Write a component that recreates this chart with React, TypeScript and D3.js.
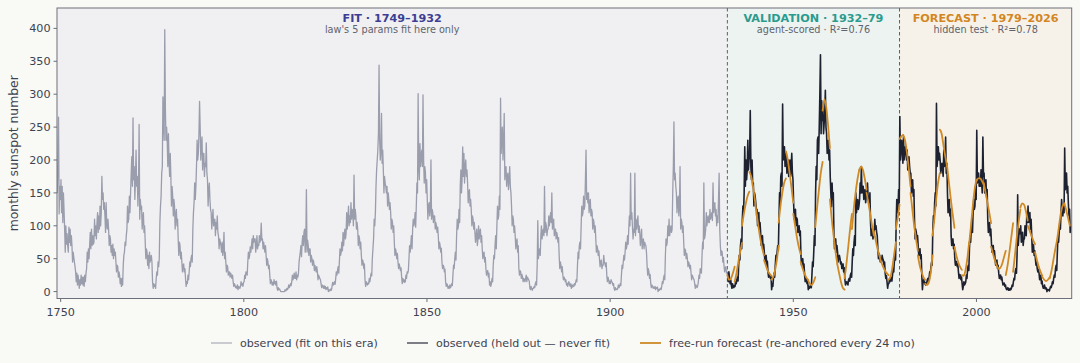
import React from "react";
import * as d3 from "d3";

// Monthly sunspot number, sampled six times a year (every other month)
const SAMPLES_PER_YEAR = 6;
const FIT_FIRST_YEAR = 1749;
const HELD_FIRST_YEAR = 1932;

// 1749–1931: the era the law's parameters were fit on (one row per year)
const fitEra = [
  150, 205, 265, 118, 160, 140, 170, 120, 160, 105, 150, 125, 95, 60, 100, 72, 88, 70,
  60, 98, 75, 95, 70, 85, 70, 45, 60, 52, 45, 38, 30, 15, 28, 10, 25, 15,
  5, 18, 10, 25, 12, 22, 10, 22, 8, 25, 15, 28, 35, 60, 45, 65, 50, 72,
  90, 65, 95, 70, 85, 72, 75, 110, 85, 100, 80, 105, 120, 90, 115, 95, 130, 100,
  120, 175, 140, 150, 125, 135, 115, 90, 135, 100, 95, 110, 95, 70, 85, 80, 60, 70,
  55, 72, 50, 65, 55, 60, 45, 30, 40, 38, 22, 30, 25, 12, 20, 8, 20, 10,
  40, 55, 60, 75, 70, 85, 95, 130, 105, 110, 145, 120, 150, 180, 205, 160, 264, 170,
  190, 140, 170, 215, 160, 175, 130, 160, 254, 110, 140, 125, 130, 95, 110, 120, 90, 100,
  75, 50, 65, 60, 40, 55, 35, 60, 45, 50, 55, 45, 15, 5, 12, 8, 10, 5,
  20, 30, 25, 45, 38, 50, 105, 130, 145, 180, 190, 296, 260, 230, 398, 280, 230, 250,
  230, 190, 240, 200, 175, 210, 175, 130, 160, 145, 115, 140, 130, 95, 115, 125, 100, 110,
  80, 55, 75, 70, 50, 60, 45, 30, 40, 42, 30, 35, 20, 8, 15, 12, 25, 18,
  30, 45, 38, 50, 55, 45, 95, 120, 135, 165, 140, 160, 190, 230, 200, 210, 240, 289,
  250, 200, 225, 235, 185, 210, 210, 175, 195, 190, 226, 180, 170, 130, 155, 165, 140, 125,
  120, 95, 110, 125, 100, 105, 110, 85, 105, 95, 115, 90, 85, 65, 80, 75, 70, 60,
  75, 55, 65, 90, 50, 60, 45, 30, 40, 38, 25, 30, 30, 22, 28, 25, 20, 25,
  15, 8, 12, 10, 6, 8, 5, 10, 3, 8, 6, 5, 8, 15, 10, 12, 8, 14,
  15, 25, 20, 30, 28, 25, 45, 60, 50, 55, 68, 60, 70, 80, 65, 85, 75, 80,
  80, 60, 70, 85, 65, 72, 70, 85, 75, 80, 104, 78, 80, 65, 75, 68, 60, 70,
  55, 40, 50, 45, 35, 40, 25, 12, 18, 15, 10, 14, 10, 18, 12, 15, 10, 16,
  5, 2, 6, 3, 4, 2, 0, 0, 0, 0, 0, 0, 0, 3, 1, 2, 5, 3,
  5, 10, 6, 8, 12, 9, 15, 25, 18, 22, 28, 20, 20, 30, 18, 25, 22, 28,
  45, 53, 60, 70, 53, 75, 85, 70, 90, 95, 60, 75, 155, 60, 78, 70, 55, 65,
  65, 45, 55, 50, 40, 48, 45, 32, 40, 35, 30, 38, 30, 18, 25, 22, 20, 18,
  12, 6, 10, 8, 5, 9, 5, 8, 3, 6, 4, 7, 0, 3, 1, 2, 4, 2,
  8, 14, 10, 12, 15, 11, 20, 30, 25, 32, 38, 28, 45, 65, 55, 60, 75, 62,
  90, 70, 85, 95, 80, 88, 120, 95, 110, 130, 100, 115, 105, 135, 110, 125, 120, 100,
  177, 110, 125, 115, 95, 105, 95, 70, 85, 80, 65, 75, 55, 40, 48, 45, 35, 42,
  18, 8, 15, 12, 10, 13, 12, 20, 15, 22, 28, 24, 50, 65, 80, 110, 100, 120,
  160, 185, 200, 215, 240, 344, 230, 200, 215, 271, 195, 215, 185, 150, 175, 165, 160, 150,
  160, 130, 150, 140, 125, 135, 120, 95, 110, 105, 90, 100, 75, 55, 65, 60, 50, 58,
  45, 35, 42, 38, 32, 36, 22, 12, 20, 15, 18, 14, 15, 25, 20, 30, 28, 32,
  50, 70, 60, 72, 85, 65, 95, 110, 100, 105, 120, 98, 130, 165, 150, 301, 190, 170,
  225, 190, 205, 215, 190, 299, 200, 165, 190, 180, 150, 170, 140, 110, 130, 135, 115, 125,
  200, 110, 125, 120, 105, 115, 115, 95, 105, 100, 90, 98, 85, 65, 75, 70, 60, 66,
  45, 35, 40, 38, 30, 34, 15, 8, 12, 10, 5, 8, 5, 10, 6, 8, 12, 9,
  25, 40, 35, 50, 60, 48, 85, 110, 95, 100, 125, 105, 160, 185, 150, 170, 220, 175,
  210, 165, 190, 200, 175, 185, 165, 135, 150, 155, 130, 140, 125, 100, 115, 110, 95, 105,
  90, 75, 85, 95, 70, 80, 100, 80, 90, 95, 75, 85, 65, 50, 58, 60, 45, 52,
  35, 25, 30, 32, 22, 28, 10, 15, 8, 12, 20, 15, 40, 55, 50, 70, 85, 65,
  100, 130, 110, 115, 145, 125, 294, 210, 235, 250, 200, 225, 271, 170, 185, 190, 160, 175,
  180, 155, 170, 190, 160, 150, 130, 100, 115, 110, 90, 100, 85, 65, 75, 80, 60, 70,
  35, 25, 32, 30, 20, 26, 22, 15, 20, 18, 15, 20, 25, 15, 22, 20, 18, 16,
  5, 3, 8, 4, 2, 5, 5, 8, 6, 12, 15, 10, 40, 108, 50, 60, 65, 55,
  85, 100, 80, 90, 95, 85, 160, 90, 105, 100, 85, 95, 95, 115, 100, 110, 120, 105,
  150, 95, 100, 110, 85, 95, 95, 80, 90, 85, 75, 82, 55, 35, 45, 40, 30, 38,
  25, 18, 22, 20, 15, 18, 10, 12, 8, 14, 15, 10, 8, 12, 5, 10, 7, 10,
  8, 12, 10, 14, 18, 15, 40, 60, 50, 70, 75, 65, 100, 130, 115, 120, 145, 125,
  130, 170, 215, 140, 150, 135, 150, 120, 135, 140, 115, 125, 120, 95, 110, 105, 90, 100,
  80, 60, 70, 65, 55, 62, 50, 38, 45, 48, 35, 40, 40, 55, 45, 42, 38, 44,
  25, 15, 22, 18, 12, 16, 12, 18, 15, 14, 10, 12, 5, 2, 6, 3, 4, 3,
  5, 10, 6, 8, 12, 9, 25, 40, 35, 45, 55, 48, 60, 75, 65, 70, 85, 72,
  95, 115, 100, 180, 110, 120, 100, 80, 95, 90, 180, 85, 110, 95, 105, 115, 90, 100,
  90, 70, 80, 95, 65, 78, 80, 65, 75, 72, 70, 60, 40, 25, 35, 30, 20, 26,
  12, 6, 10, 8, 5, 7, 5, 8, 3, 6, 5, 7, 0, 3, 2, 4, 5, 3,
  8, 15, 12, 20, 25, 18, 55, 80, 70, 75, 100, 85, 110, 85, 95, 100, 90, 95,
  150, 190, 258, 170, 180, 160, 150, 120, 140, 145, 115, 130, 190, 95, 110, 105, 90, 100,
  75, 55, 65, 62, 50, 58, 50, 38, 45, 42, 35, 40, 28, 18, 25, 22, 20, 18,
  12, 5, 10, 8, 6, 9, 15, 25, 20, 35, 30, 28, 55, 75, 65, 165, 80, 85,
  95, 120, 100, 110, 115, 105, 105, 125, 110, 115, 120, 108, 165, 120, 130, 135, 115, 125,
  100, 115, 105, 140, 180, 95, 70, 55, 62, 60, 45, 52, 40, 30, 35, 38, 28, 32,
];

// 1932–2025: held out from the fit (validation, then hidden forecast test)
const heldOut = [
  25, 15, 30, 20, 12, 18, 10, 5, 12, 8, 6, 9, 8, 15, 12, 18, 22, 16,
  40, 55, 48, 70, 80, 65, 110, 130, 120, 150, 220, 160, 200, 170, 185, 230, 185, 200,
  210, 275, 190, 170, 200, 160, 165, 130, 150, 145, 135, 125, 125, 100, 115, 120, 95, 105,
  90, 70, 80, 85, 65, 72, 60, 45, 52, 55, 40, 46, 30, 22, 28, 25, 20, 24,
  3, 12, 8, 20, 28, 22, 40, 55, 50, 60, 70, 62, 110, 150, 130, 175, 180, 160,
  285, 200, 215, 220, 190, 210, 210, 180, 195, 200, 175, 185, 200, 175, 190, 210, 180, 170,
  135, 110, 120, 125, 100, 112, 110, 90, 98, 100, 85, 92, 55, 40, 48, 50, 35, 42,
  25, 15, 20, 18, 12, 16, 3, 8, 5, 7, 10, 6, 25, 45, 38, 60, 85, 70,
  150, 190, 170, 230, 235, 210, 250, 300, 360, 240, 290, 260, 280, 240, 255, 270, 306, 250,
  240, 210, 225, 230, 200, 215, 175, 150, 129, 165, 140, 150, 90, 65, 78, 80, 60, 70,
  60, 45, 52, 55, 50, 42, 45, 35, 40, 42, 30, 36, 18, 10, 14, 15, 12, 10,
  18, 20, 16, 25, 28, 22, 45, 65, 55, 75, 85, 70, 150, 120, 135, 140, 125, 130,
  140, 165, 150, 190, 150, 160, 160, 140, 150, 155, 135, 145, 150, 165, 145, 140, 135, 150,
  105, 85, 95, 92, 80, 88, 90, 110, 95, 100, 90, 85, 65, 50, 58, 55, 45, 50,
  45, 55, 50, 48, 40, 45, 28, 20, 24, 15, 5, 12, 12, 18, 15, 22, 20, 16,
  25, 35, 30, 45, 55, 48, 105, 140, 120, 125, 155, 135, 266, 200, 220, 230, 210, 195,
  235, 200, 215, 220, 210, 200, 215, 185, 195, 205, 190, 180, 180, 150, 165, 170, 145, 155,
  110, 80, 95, 90, 75, 85, 70, 55, 62, 65, 50, 56, 25, 3, 15, 18, 15, 12,
  10, 14, 12, 18, 20, 16, 22, 30, 28, 38, 45, 40, 95, 115, 105, 135, 150, 130,
  286, 190, 205, 220, 200, 210, 200, 180, 190, 195, 185, 175, 215, 190, 205, 235, 180, 195,
  150, 120, 135, 140, 115, 125, 85, 70, 78, 80, 65, 72, 50, 40, 46, 45, 38, 42,
  30, 20, 26, 25, 18, 22, 12, 3, 8, 15, 10, 12, 15, 25, 20, 35, 40, 32,
  65, 85, 75, 95, 110, 90, 120, 140, 125, 130, 160, 140, 245, 165, 175, 180, 160, 170,
  160, 185, 165, 150, 235, 175, 180, 150, 165, 170, 145, 155, 110, 90, 100, 105, 85, 95,
  75, 60, 68, 70, 55, 62, 50, 40, 45, 48, 35, 40, 28, 20, 24, 25, 18, 22,
  15, 10, 12, 13, 8, 10, 5, 3, 4, 6, 2, 4, 2, 5, 3, 6, 10, 8,
  15, 20, 18, 30, 35, 28, 55, 147, 70, 85, 95, 88, 100, 75, 85, 90, 70, 80,
  80, 100, 90, 85, 120, 105, 130, 105, 115, 120, 95, 110, 85, 60, 72, 70, 55, 62,
  50, 40, 45, 35, 30, 34, 28, 18, 22, 25, 12, 16, 8, 5, 7, 10, 4, 6,
  5, 0, 3, 3, 2, 1, 5, 8, 6, 10, 15, 12, 20, 25, 22, 35, 40, 32,
  60, 85, 75, 90, 105, 95, 120, 140, 125, 115, 130, 120, 218, 155, 170, 180, 150, 160,
  135, 115, 125, 90, 100,
];

// Free-run forecasts, re-anchored every 24 months; one value per half year
const RUN_STEP = 0.5;
const validationRunStarts = [
  1932, 1934, 1936, 1938, 1940, 1942, 1944, 1946, 1948, 1950, 1952, 1954,
  1956, 1958, 1960, 1962, 1964, 1966, 1968, 1970, 1972, 1974, 1976, 1978,
];
const validationRuns = [
  [25, 18, 20, 28, 38], [15, 28, 45, 60, 74], [100, 118, 133, 145, 152], [182, 175, 160, 140, 115],
  [118, 98, 80, 66, 55], [48, 40, 32, 27, 24], [18, 22, 32, 48, 70], [105, 130, 150, 165, 172],
  [213, 200, 180, 158, 135], [118, 100, 82, 68, 57], [45, 36, 28, 22, 18], [18, 12, 10, 14, 22],
  [98, 128, 155, 180, 197], [275, 292, 280, 252, 218], [140, 110, 85, 62, 42], [42, 28, 15, 6, 3],
  [20, 42, 68, 95, 118], [95, 125, 150, 170, 185], [185, 190, 185, 172, 155], [150, 135, 118, 100, 85],
  [92, 78, 65, 55, 45], [45, 38, 32, 28, 25], [18, 22, 35, 55, 75], [95, 112, 132],
];
const forecastRunStarts = [
  1979, 1980, 1982, 1984, 1986, 1988, 1990, 1992, 1994, 1996, 1998, 2000,
  2002, 2004, 2006, 2008, 2010, 2012, 2014, 2016, 2018, 2020, 2022, 2024,
];
const forecastRuns = [
  [232, 236, 238], [238, 230, 212, 188, 160], [150, 125, 100, 80, 62], [55, 40, 30, 22, 18],
  [12, 10, 14, 28, 55], [85, 110, 140, 165, 180], [246, 240, 222, 205, 190], [190, 165, 140, 118, 97],
  [68, 55, 45, 38, 33], [25, 24, 32, 50, 75], [72, 100, 130, 155, 170], [168, 172, 172, 168, 162],
  [165, 150, 135, 120, 104], [68, 58, 48, 40, 35], [35, 36, 42, 52, 62], [25, 40, 60, 82, 104],
  [30, 55, 82, 105, 125], [128, 134, 132, 122, 108], [100, 93, 85, 78, 72], [60, 48, 38, 30, 24],
  [22, 18, 16, 18, 22], [20, 32, 48, 64, 78], [78, 98, 118, 130, 134], [134, 124, 112, 100],
];

// Eras
const eraBounds = [1749, 1932, 1979, 2026];
const eraTitles = ["FIT · 1749–1932", "VALIDATION · 1932–79", "FORECAST · 1979–2026"];
const eraNotes = ["law's 5 params fit here only", "agent-scored · R²=0.76", "hidden test · R²=0.78"];

const xTicks = [1750, 1800, 1850, 1900, 1950, 2000];
const yTicks = [0, 50, 100, 150, 200, 250, 300, 350, 400];
const Y_DOMAIN: [number, number] = [-10.5, 431];

const legendLabels = [
  "observed (fit on this era)",
  "observed (held out — never fit)",
  "free-run forecast (re-anchored every 24 mo)",
];

const W = 1080;
const H = 363;
const M = { left: 57, right: 8.3, top: 8, bottom: 64.5 };

const ERA_FILL = ["#f0f0f2", "#edf3f1", "#f6f2e9"];
const ERA_INK = ["#3c3e93", "#2a9b8e", "#d3861f"];
const FIT_LINE = "#9a9dac";
const HELD_LINE = "#1d2130";
const RUN_LINE = "#cf8a26";
const AXIS = "#6c707a";
const TEXT = "#3e4350";
const FONT = "DejaVu Sans, sans-serif";

type Pt = [number, number];

function toPoints(values: number[], firstYear: number): Pt[] {
  return values.map((v, i) => [firstYear + (i + 0.5) / SAMPLES_PER_YEAR, v]);
}

function runPoints(start: number, values: number[]): Pt[] {
  return values.map((v, i) => [start + i * RUN_STEP, v]);
}

export default function App() {
  const x = d3.scaleLinear().domain([eraBounds[0], eraBounds[3]]).range([M.left, W - M.right]);
  const y = d3.scaleLinear().domain(Y_DOMAIN).range([H - M.bottom, M.top]);
  const plotTop = M.top;
  const plotBottom = H - M.bottom;
  const plotLeft = M.left;
  const plotRight = W - M.right;

  const line = d3
    .line<Pt>()
    .x((d) => x(d[0]))
    .y((d) => y(d[1]));
  const smooth = d3
    .line<Pt>()
    .x((d) => x(d[0]))
    .y((d) => y(d[1]))
    .curve(d3.curveMonotoneX);

  const fitPath = line(toPoints(fitEra, FIT_FIRST_YEAR)) || "";
  const heldPath = line(toPoints(heldOut, HELD_FIRST_YEAR)) || "";
  const runs = [
    ...validationRunStarts.map((s, i) => runPoints(s, validationRuns[i])),
    ...forecastRunStarts.map((s, i) => runPoints(s, forecastRuns[i])),
  ];

  const legendX = [211, 407, 640];
  const legendColors = [FIT_LINE, "#6f7079", RUN_LINE];
  const legendWidths = [1, 1.8, 1.8];
  const legendY = 343;

  return (
    <div style={{ position: "absolute", left: 0, top: 0 }}>
      <svg width={W} height={H} style={{ display: "block", background: "#f9f9f6" }} fontFamily={FONT}>
        <defs>
          <clipPath id="plot-clip">
            <rect x={plotLeft} y={plotTop} width={plotRight - plotLeft} height={plotBottom - plotTop} />
          </clipPath>
        </defs>

        {/* era backgrounds */}
        {ERA_FILL.map((fill, i) => (
          <rect
            key={i}
            x={x(eraBounds[i])}
            y={plotTop}
            width={x(eraBounds[i + 1]) - x(eraBounds[i])}
            height={plotBottom - plotTop}
            fill={fill}
          />
        ))}

        {/* era dividers */}
        {[eraBounds[1], eraBounds[2]].map((b) => (
          <line
            key={b}
            x1={x(b)}
            x2={x(b)}
            y1={plotTop}
            y2={plotBottom}
            stroke="#5c606a"
            strokeWidth={1}
            strokeDasharray="3.5,2.5"
          />
        ))}

        <g clipPath="url(#plot-clip)" fill="none" strokeLinejoin="round">
          <path d={fitPath} stroke={FIT_LINE} strokeWidth={1.3} />
          <path d={heldPath} stroke={HELD_LINE} strokeWidth={1.6} />
          {runs.map((r, i) => (
            <path key={i} d={smooth(r) || ""} stroke={RUN_LINE} strokeWidth={1.8} strokeLinecap="round" />
          ))}
        </g>

        {/* frame */}
        <rect
          x={plotLeft}
          y={plotTop}
          width={plotRight - plotLeft}
          height={plotBottom - plotTop}
          fill="none"
          stroke={AXIS}
          strokeWidth={1}
        />

        {/* x axis */}
        {xTicks.map((t) => (
          <g key={t} transform={`translate(${x(t)},${plotBottom})`}>
            <line y2={3.5} stroke={AXIS} />
            <text y={17.5} textAnchor="middle" fontSize={11.2} fill={TEXT}>
              {t}
            </text>
          </g>
        ))}

        {/* y axis */}
        {yTicks.map((t) => (
          <g key={t} transform={`translate(${plotLeft},${y(t)})`}>
            <line x2={-3.5} stroke={AXIS} />
            <text x={-6.5} dy="0.35em" textAnchor="end" fontSize={11.2} fill={TEXT}>
              {t}
            </text>
          </g>
        ))}
        <text
          transform={`translate(18,${(plotTop + plotBottom) / 2}) rotate(-90)`}
          textAnchor="middle"
          fontSize={12.4}
          fill={TEXT}
        >
          monthly sunspot number
        </text>

        {/* era titles */}
        {eraTitles.map((title, i) => {
          const cx = x((eraBounds[i] + eraBounds[i + 1]) / 2);
          return (
            <g key={title}>
              <text x={cx} y={21.5} textAnchor="middle" fontSize={11.2} fontWeight="bold" fill={ERA_INK[i]}>
                {title}
              </text>
              <text x={cx} y={32.5} textAnchor="middle" fontSize={9.7} fill="#5f636d">
                {eraNotes[i]}
              </text>
            </g>
          );
        })}

        {/* legend */}
        {legendLabels.map((label, i) => (
          <g key={label} transform={`translate(${legendX[i]},${legendY})`}>
            <line x2={21} stroke={legendColors[i]} strokeWidth={legendWidths[i]} />
            <text x={29} dy="0.35em" fontSize={11.1} fill={TEXT}>
              {label}
            </text>
          </g>
        ))}
      </svg>
    </div>
  );
}
